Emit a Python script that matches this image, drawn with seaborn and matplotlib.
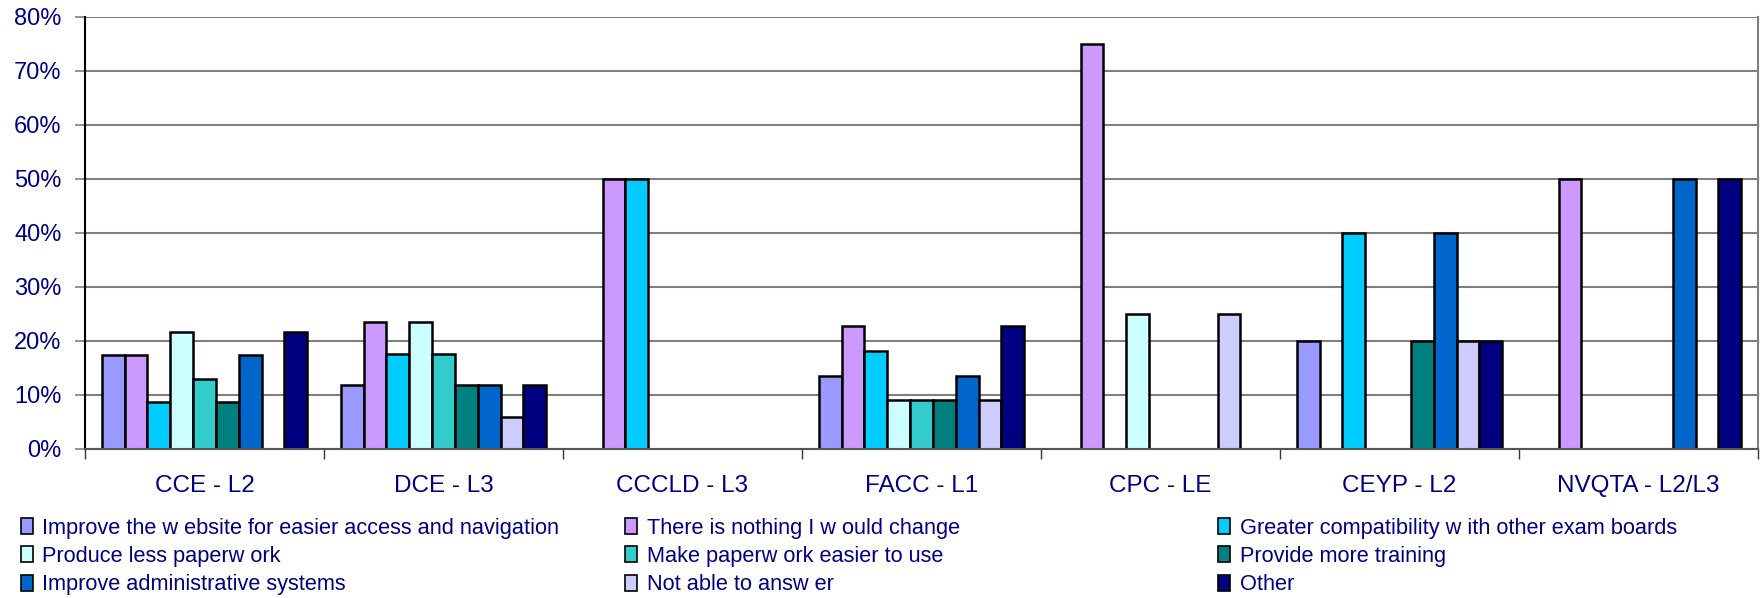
import numpy as np
import pandas as pd
import matplotlib
matplotlib.use("Agg")
import matplotlib.pyplot as plt
import seaborn as sns
from matplotlib.ticker import PercentFormatter, FixedLocator
from matplotlib.patches import Patch


# ---------------- DATA ----------------
courses = ["CCE - L2", "DCE - L3", "CCCLD - L3", "FACC - L1",
           "CPC - LE", "CEYP - L2", "NVQTA - L2/L3"]

answers = [
    "Improve the w ebsite for easier access and navigation",
    "There is nothing I w ould change",
    "Greater compatibility w ith other exam boards",
    "Produce less paperw ork",
    "Make paperw ork easier to use",
    "Provide more training",
    "Improve administrative systems",
    "Not able to answ er",
    "Other",
]

improve_website = [17.4, 11.8, 0, 13.6, 0, 20, 0]
nothing_change = [17.4, 23.5, 50, 22.7, 75, 0, 50]
compatibility = [8.7, 17.6, 50, 18.2, 0, 40, 0]
less_paperwork = [21.7, 23.5, 0, 9.1, 25, 0, 0]
easier_paperwork = [13.0, 17.6, 0, 9.1, 0, 0, 0]
more_training = [8.7, 11.8, 0, 9.1, 0, 20, 0]
admin_systems = [17.4, 11.8, 0, 13.6, 0, 40, 50]
not_able = [0, 5.9, 0, 9.1, 25, 20, 0]
other = [21.7, 11.8, 0, 22.7, 0, 20, 50]

series = [improve_website, nothing_change, compatibility, less_paperwork,
          easier_paperwork, more_training, admin_systems, not_able, other]

colors = ["#9999FF", "#CC99FF", "#00CCFF", "#CCFFFF", "#33CCCC",
          "#008080", "#0066CC", "#CCCCFF", "#000080"]

rows = []
for name, vals in zip(answers, series):
    for course, v in zip(courses, vals):
        rows.append({"course": course, "answer": name, "value": v})
df = pd.DataFrame(rows)


# ---------------- PLOT ----------------
sns.set_style("white")
plt.rcParams["font.family"] = ["Liberation Sans", "DejaVu Sans"]

navy = "#000080"
fig = plt.figure(figsize=(17.6, 5.98), dpi=100)
ax = fig.add_axes([0.0483, 0.2492, 0.9506, 0.7224])

sns.barplot(data=df, x="course", y="value", hue="answer",
            order=courses, hue_order=answers, palette=colors,
            saturation=1, width=0.86, edgecolor="black", linewidth=1.8,
            legend=False, ax=ax)

# hide empty bars
for p in ax.patches:
    if p.get_height() == 0:
        p.set_visible(False)

ax.set_ylim(0, 80)
ax.set_xlim(-0.5, len(courses) - 0.5)
ax.yaxis.set_major_formatter(PercentFormatter(decimals=0))
ax.set_yticks(np.arange(0, 81, 10))
ax.yaxis.grid(True, color="#808080", linewidth=1.5)
ax.set_axisbelow(True)

ax.xaxis.set_minor_locator(FixedLocator(np.arange(-0.5, len(courses), 1)))
ax.tick_params(axis="x", which="major", length=0, pad=19,
               labelsize=17.5, labelcolor=navy)
ax.tick_params(axis="x", which="minor", length=7, width=1, color="#333333",
               direction="out", bottom=True)
ax.tick_params(axis="y", length=7, width=1.2, color="#808080", left=True,
               labelsize=17, labelcolor=navy, pad=10)

ax.set_xlabel("")
ax.set_ylabel("")

ax.spines["top"].set_visible(False)
ax.spines["left"].set_color("black")
ax.spines["left"].set_linewidth(1.5)
ax.spines["bottom"].set_color("#555555")
ax.spines["bottom"].set_linewidth(1.5)
ax.spines["right"].set_color("#808080")
ax.spines["right"].set_linewidth(1.5)


# ---------------- LEGEND (3 columns, row-major) ----------------
col_x = [0.0117, 0.355, 0.692]
for c in range(3):
    idx = [c, c + 3, c + 6]
    handles = [Patch(facecolor=colors[i], edgecolor="black", linewidth=1.2)
               for i in idx]
    labels = [answers[i] for i in idx]
    fig.legend(handles, labels, loc="upper left",
               bbox_to_anchor=(col_x[c], 0.134), frameon=False,
               fontsize=15.7, labelcolor=navy, handlelength=0.55,
               handleheight=0.75, handletextpad=0.45, labelspacing=0.33,
               borderaxespad=0, borderpad=0)

fig.savefig("out.png", dpi=100)
plt.close()
